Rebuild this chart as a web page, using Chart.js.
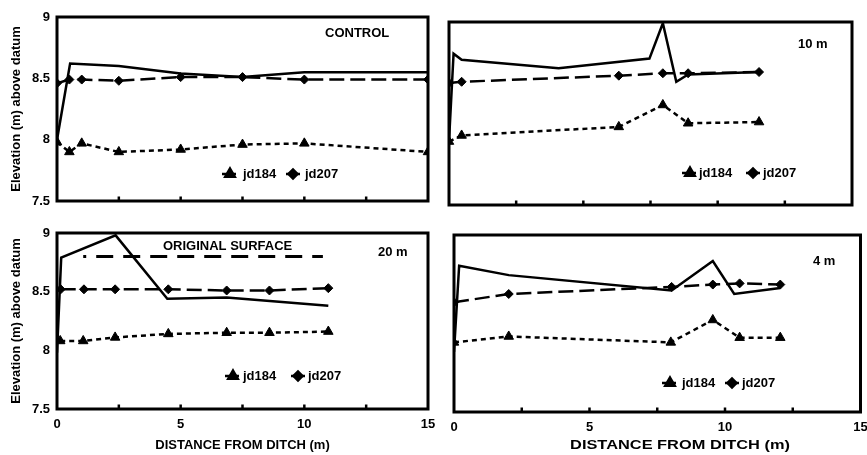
<!DOCTYPE html>
<html>
<head>
<meta charset="utf-8">
<script src="https://cdn.jsdelivr.net/npm/chart.js@4"></script>
<style>
  html, body { margin: 0; padding: 0; background: #fff; overflow: hidden; }
  #wrap { position: relative; width: 867px; height: 455px; }
  #wrap canvas { position: absolute; }
</style>
</head>
<body>
<div id="wrap">
  <canvas id="pControl" width="440" height="222" style="left:0px;top:0px"></canvas>
  <canvas id="p10m" width="427" height="222" style="left:440px;top:0px"></canvas>
  <canvas id="p20m" width="440" height="233" style="left:0px;top:222px"></canvas>
  <canvas id="p4m" width="427" height="233" style="left:440px;top:222px"></canvas>
</div>
<script>
// Axis ticks shared by all four panels
const yTicks = [7.5, 8, 8.5, 9];
const xTicks = [0, 5, 10, 15];
const xTickMarks = [2.5, 5, 7.5, 10, 12.5];

// CONTROL transect
const controlSurfaceX = [0, 0.53, 2.5, 5, 7.5, 10, 15];
const controlSurfaceY = [8.00, 8.62, 8.60, 8.54, 8.51, 8.55, 8.55];
const controlJd207X = [0, 0.5, 1, 2.5, 5, 7.5, 10, 15];
const controlJd207Y = [8.46, 8.49, 8.49, 8.48, 8.51, 8.51, 8.49, 8.49];
const controlJd184X = [0, 0.5, 1, 2.5, 5, 7.5, 10, 15];
const controlJd184Y = [7.98, 7.90, 7.97, 7.90, 7.92, 7.96, 7.97, 7.90];

// 10 m transect
const m10SurfaceX = [0, 0.17, 0.47, 4.08, 7.46, 7.96, 8.46, 8.9, 11.54];
const m10SurfaceY = [8.02, 8.74, 8.69, 8.62, 8.70, 8.99, 8.51, 8.57, 8.59];
const m10Jd207X = [0, 0.47, 6.32, 7.96, 8.9, 11.54];
const m10Jd207Y = [8.50, 8.51, 8.56, 8.58, 8.58, 8.59];
const m10Jd184X = [0, 0.47, 6.32, 7.96, 8.9, 11.54];
const m10Jd184Y = [8.02, 8.07, 8.14, 8.32, 8.17, 8.18];

// 20 m transect
const m20SurfaceX = [0, 0.17, 2.37, 4.46, 6.86, 10.97];
const m20SurfaceY = [7.98, 8.79, 8.98, 8.44, 8.45, 8.38];
const m20OriginalX = [1.06, 10.75];
const m20OriginalY = [8.80, 8.80];
const m20Jd207X = [0.15, 1.09, 2.35, 4.5, 6.86, 8.59, 10.97];
const m20Jd207Y = [8.52, 8.52, 8.52, 8.52, 8.51, 8.51, 8.53];
const m20Jd184X = [0.13, 1.06, 2.35, 4.5, 6.86, 8.59, 10.97];
const m20Jd184Y = [8.08, 8.08, 8.11, 8.14, 8.15, 8.15, 8.16];

// 4 m transect
const m4SurfaceX = [0, 0.19, 2.02, 8.03, 9.55, 10.34, 12.04];
const m4SurfaceY = [8.01, 8.74, 8.66, 8.53, 8.78, 8.50, 8.55];
const m4Jd207X = [0, 2.02, 8.03, 9.55, 10.54, 12.04];
const m4Jd207Y = [8.43, 8.50, 8.56, 8.58, 8.59, 8.58];
const m4Jd184X = [0, 2.02, 8.0, 9.55, 10.54, 12.04];
const m4Jd184Y = [8.09, 8.14, 8.09, 8.28, 8.13, 8.13];

const FONT = '"Liberation Sans", Arial, Helvetica, sans-serif';
Chart.defaults.font.family = FONT;
Chart.defaults.font.weight = 'bold';
Chart.defaults.color = '#000';

const DASH_207 = [15, 6];
const DASH_184 = [5, 4];
const DASH_ORIG = [17, 10];

function pts(xs, ys) { return xs.map((x, i) => ({ x: x, y: ys[i] })); }

function surface(xs, ys) {
  return { label: 'surface', data: pts(xs, ys), borderWidth: 2.5, borderDash: [], pointRadius: 0 };
}
function jd207(xs, ys) {
  return { label: 'jd207', data: pts(xs, ys), borderWidth: 2.5, borderDash: DASH_207,
           pointStyle: 'rectRot', pointRadius: 4.5 };
}
function jd184(xs, ys) {
  return { label: 'jd184', data: pts(xs, ys), borderWidth: 2.5, borderDash: DASH_184,
           pointStyle: 'triangle', pointRadius: 5.5 };
}
function original(xs, ys) {
  return { label: 'original surface', data: pts(xs, ys), borderWidth: 3, borderDash: DASH_ORIG,
           borderDashOffset: 14, pointRadius: 0 };
}

// Frame, inner tick marks, panel captions and the in-plot key
const panelDecor = {
  id: 'panelDecor',
  afterDatasetsDraw(chart, args, o) {
    const { ctx, chartArea: a } = chart;
    const xs = chart.scales.x;
    ctx.save();
    ctx.strokeStyle = '#000';
    ctx.fillStyle = '#000';
    ctx.setLineDash([]);
    ctx.lineWidth = 3;
    ctx.strokeRect(a.left, a.top, a.right - a.left, a.bottom - a.top);
    ctx.lineWidth = 2.5;
    xTickMarks.forEach(v => {
      const px = xs.getPixelForValue(v);
      ctx.beginPath();
      ctx.moveTo(px, a.bottom);
      ctx.lineTo(px, a.bottom - 4.5);
      ctx.stroke();
    });
    ctx.font = 'bold 13px ' + FONT;
    ctx.textBaseline = 'middle';
    ctx.textAlign = 'left';
    (o.captions || []).forEach(c => ctx.fillText(c.text, c.x, c.y));

    // key
    const k = o.key;
    if (k) {
      ctx.lineWidth = 2.5;
      ctx.setLineDash(DASH_184);
      ctx.beginPath(); ctx.moveTo(k.tri - 8, k.y); ctx.lineTo(k.tri + 8, k.y); ctx.stroke();
      ctx.setLineDash(DASH_207);
      ctx.beginPath(); ctx.moveTo(k.dia - 7, k.y); ctx.lineTo(k.dia + 7, k.y); ctx.stroke();
      ctx.setLineDash([]);
      Chart.helpers.drawPoint(ctx, { pointStyle: 'triangle', radius: 5.5, borderWidth: 1 }, k.tri, k.y);
      ctx.fill();
      Chart.helpers.drawPoint(ctx, { pointStyle: 'rectRot', radius: 4.5, borderWidth: 1 }, k.dia, k.y);
      ctx.fill();
      ctx.fillStyle = '#000';
      ctx.fillText('jd184', k.t1, k.y);
      ctx.fillText('jd207', k.t2, k.y);
    }

    // stretched axis title for the right-hand bottom panel
    if (o.xTitle) {
      ctx.save();
      ctx.translate(o.xTitle.x, o.xTitle.y);
      ctx.scale(o.xTitle.stretch, 1);
      ctx.textAlign = 'center';
      ctx.fillText(o.xTitle.text, 0, 0);
      ctx.restore();
    }
    ctx.restore();
  }
};

function makePanel(id, p) {
  const datasets = p.datasets.map(d => Object.assign({
    borderColor: '#000', backgroundColor: '#000', pointBorderColor: '#000',
    pointBackgroundColor: '#000', pointBorderWidth: 1, tension: 0, fill: false
  }, d));
  return new Chart(document.getElementById(id), {
    type: 'line',
    data: { datasets: datasets },
    plugins: [panelDecor],
    options: {
      responsive: false,
      animation: false,
      devicePixelRatio: 1,
      layout: { padding: p.padding },
      plugins: {
        legend: { display: false },
        tooltip: { enabled: false },
        panelDecor: { captions: p.captions, key: p.key, xTitle: p.xTitleCustom }
      },
      scales: {
        x: {
          type: 'linear', min: 0, max: 15,
          display: p.showX,
          afterBuildTicks: s => { s.ticks = xTicks.map(v => ({ value: v })); },
          afterFit: s => { s.height = p.showX ? p.xHeight : 0; s.paddingLeft = 0; s.paddingRight = 0; },
          grid: { display: false, drawTicks: false },
          border: { display: false },
          ticks: { autoSkip: false, maxRotation: 0, padding: 8, font: { size: 13, weight: 'bold' }, color: '#000',
                   callback: v => String(v) },
          title: { display: !!p.xTitle, text: 'DISTANCE FROM DITCH (m)', color: '#000',
                   font: { size: 13, weight: 'bold' }, padding: { top: 0, bottom: 2 } }
        },
        y: {
          type: 'linear', min: 7.5, max: 9,
          display: p.showY,
          afterBuildTicks: s => { s.ticks = yTicks.map(v => ({ value: v })); },
          afterFit: s => { s.width = p.showY ? 57 : 0; s.paddingTop = 0; s.paddingBottom = 0; },
          grid: { display: false, drawTicks: false },
          border: { display: false },
          ticks: { padding: 7, font: { size: 13, weight: 'bold' }, color: '#000',
                   callback: v => String(v) },
          title: { display: true, text: 'Elevation (m) above datum', color: '#000',
                   font: { size: 13, weight: 'bold' }, padding: { top: 9, bottom: 0 } }
        }
      }
    }
  });
}

makePanel('pControl', {
  padding: { left: 0, top: 17, right: 12, bottom: 21 },
  showX: false, showY: true,
  datasets: [surface(controlSurfaceX, controlSurfaceY), jd207(controlJd207X, controlJd207Y), jd184(controlJd184X, controlJd184Y)],
  captions: [{ text: 'CONTROL', x: 325, y: 33 }],
  key: { y: 174, tri: 230, t1: 243, dia: 293, t2: 305 }
});

makePanel('p10m', {
  padding: { left: 9, top: 22, right: 15, bottom: 17 },
  showX: false, showY: false,
  datasets: [surface(m10SurfaceX, m10SurfaceY), jd207(m10Jd207X, m10Jd207Y), jd184(m10Jd184X, m10Jd184Y)],
  captions: [{ text: '10 m', x: 358, y: 44 }],
  key: { y: 173, tri: 250, t1: 259, dia: 313, t2: 323 }
});

makePanel('p20m', {
  padding: { left: 0, top: 11, right: 12, bottom: 0 },
  showX: true, showY: true, xHeight: 46, xTitle: true,
  datasets: [surface(m20SurfaceX, m20SurfaceY), original(m20OriginalX, m20OriginalY),
             jd207(m20Jd207X, m20Jd207Y), jd184(m20Jd184X, m20Jd184Y)],
  captions: [{ text: 'ORIGINAL SURFACE', x: 163, y: 24 }, { text: '20 m', x: 378, y: 30 }],
  key: { y: 154, tri: 233, t1: 243, dia: 298, t2: 308 }
});

makePanel('p4m', {
  padding: { left: 14, top: 13, right: 5, bottom: 0 },
  showX: true, showY: false, xHeight: 43, xTitle: false,
  datasets: [surface(m4SurfaceX, m4SurfaceY), jd207(m4Jd207X, m4Jd207Y), jd184(m4Jd184X, m4Jd184Y)],
  captions: [{ text: '4 m', x: 373, y: 39 }],
  key: { y: 161, tri: 230, t1: 242, dia: 292, t2: 302 },
  xTitleCustom: { text: 'DISTANCE FROM DITCH (m)', x: 240, y: 223, stretch: 1.26 }
});
</script>
</body>
</html>
